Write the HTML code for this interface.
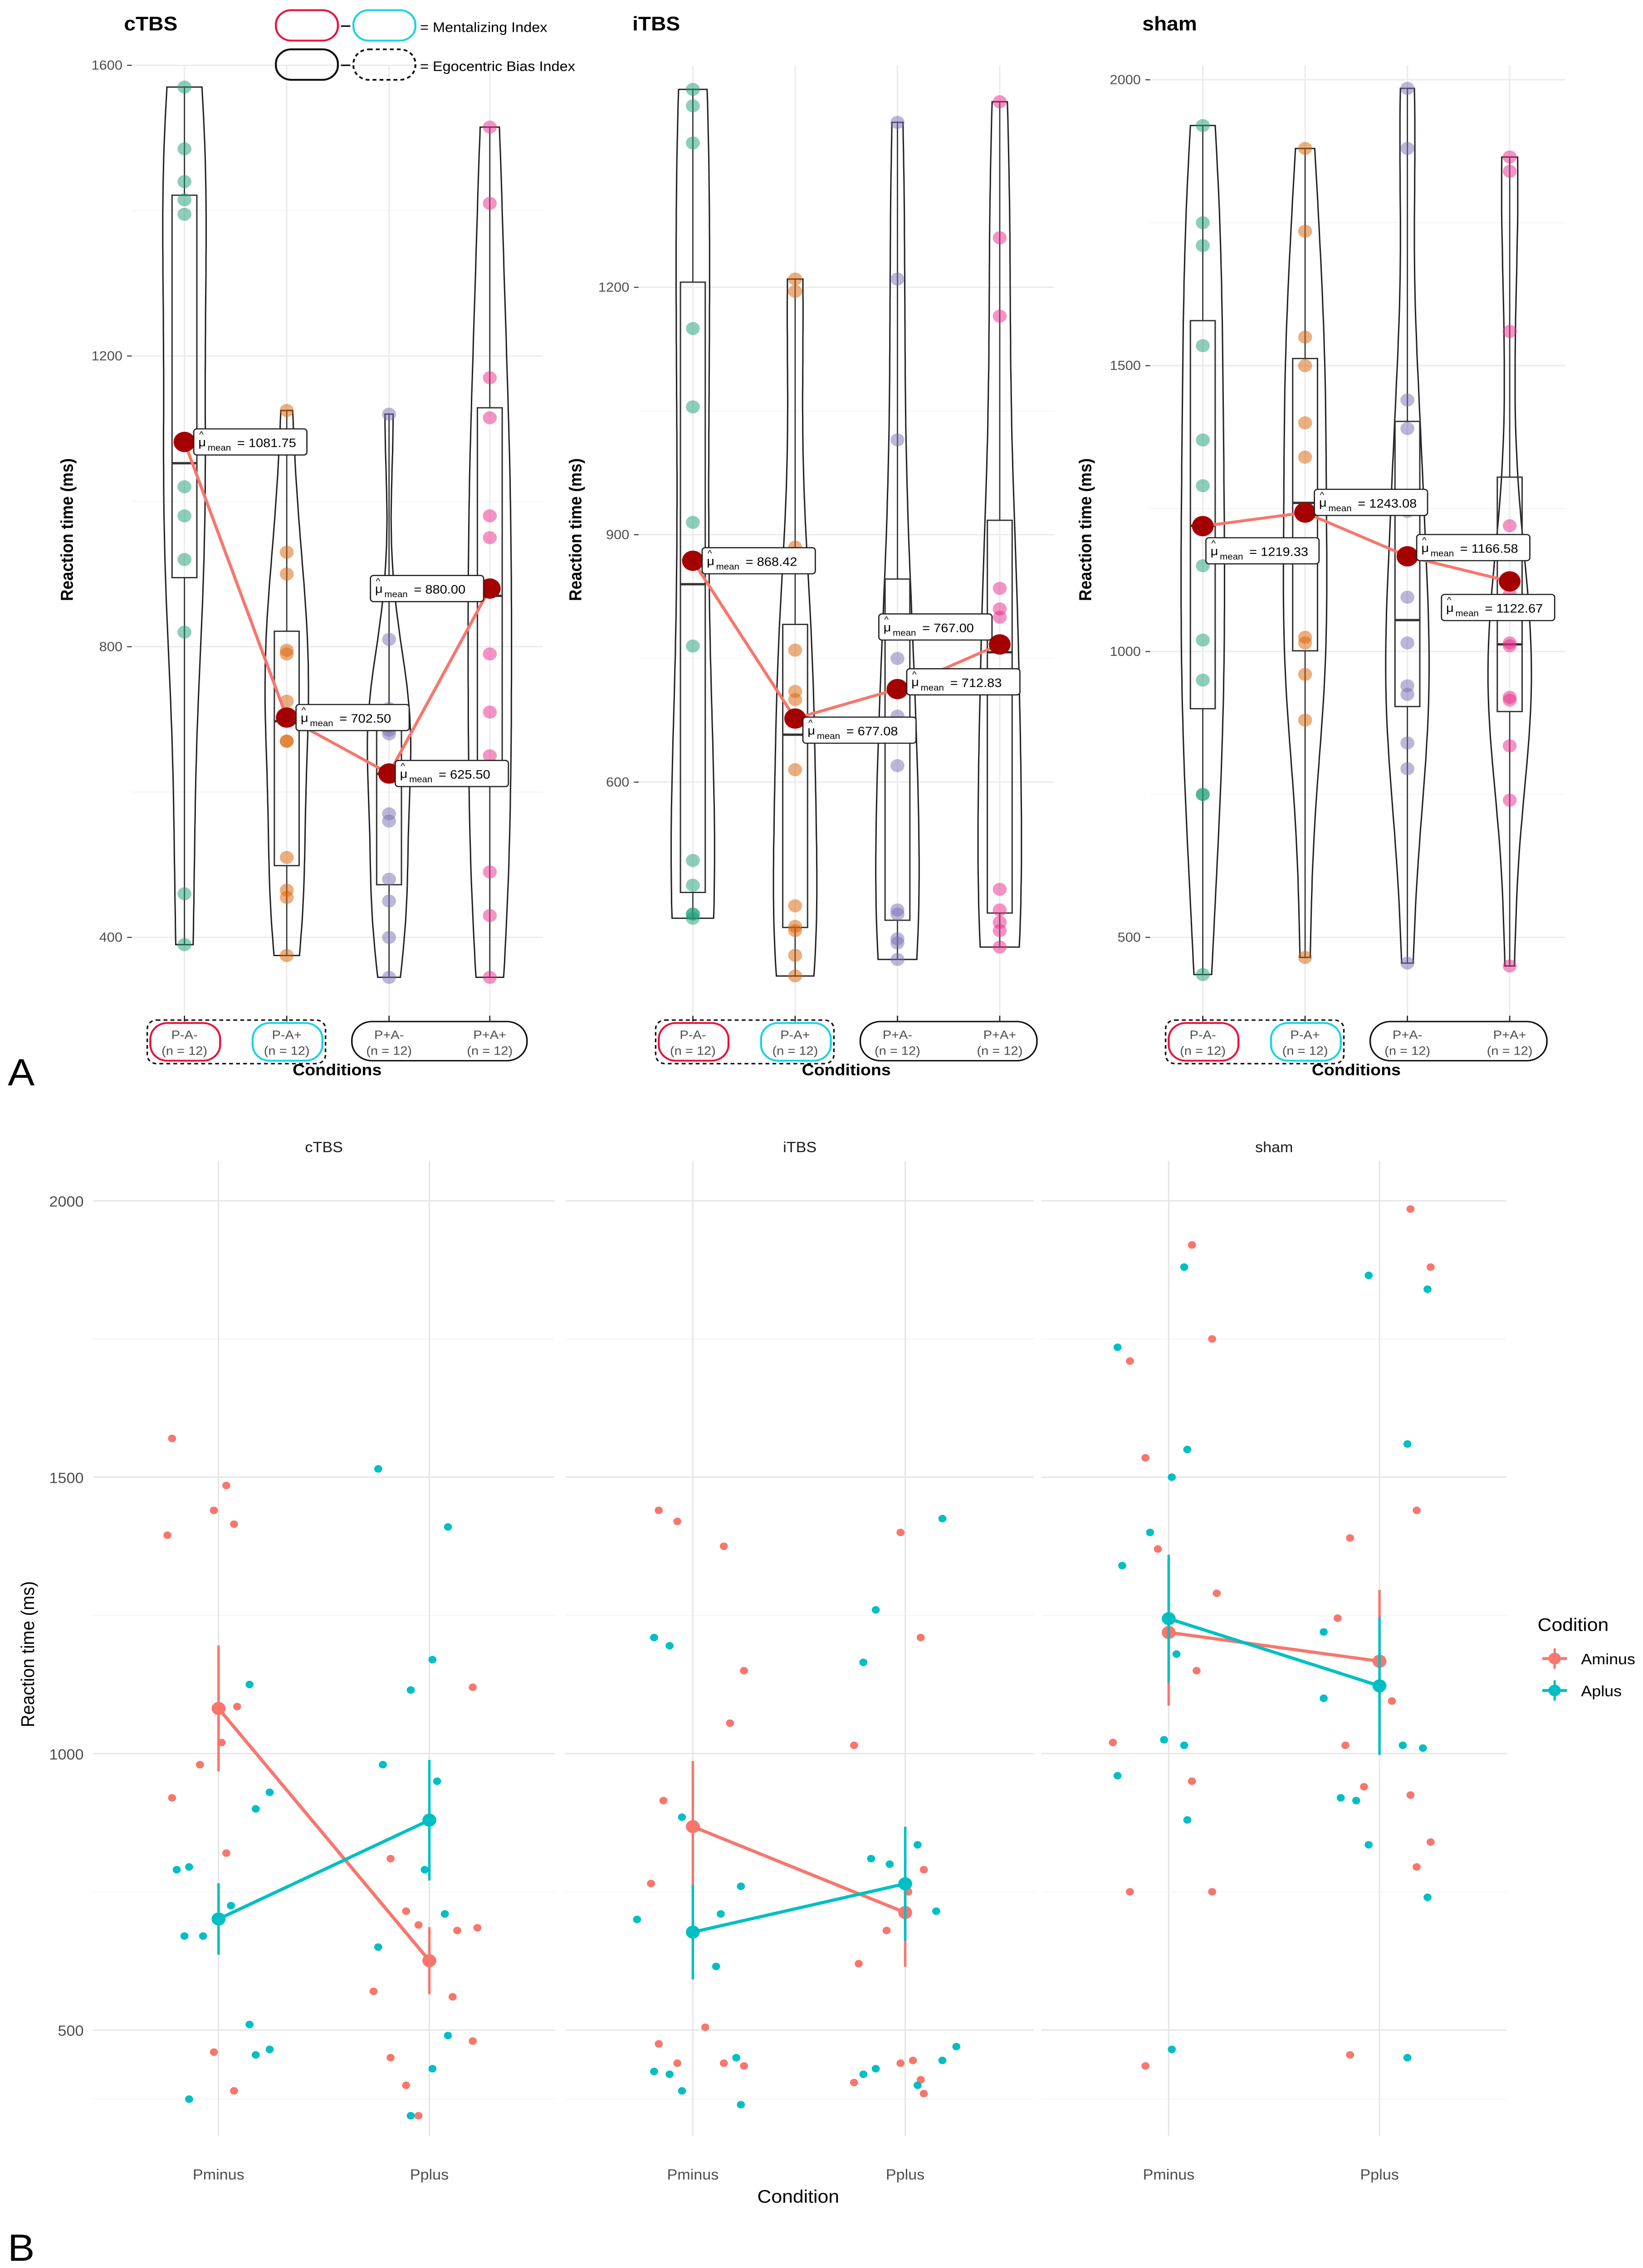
<!DOCTYPE html>
<html><head><meta charset="utf-8"><style>
html,body{margin:0;padding:0;background:#fff;overflow:hidden;width:100vw;height:100vh}
svg{display:block;position:absolute;left:0;top:0;width:100vw;height:100vh}
text{font-family:"Liberation Sans",sans-serif}
</style></head><body>
<svg id="fig" viewBox="0 0 1060 1563" preserveAspectRatio="none" xmlns="http://www.w3.org/2000/svg">
<rect width="1060" height="1563" fill="#fff"/>
<g id="gA"></g>
<g id="gB"></g>
<text x="5" y="748" font-size="26" font-family="Liberation Serif">A</text>
<text x="5" y="1558" font-size="26" font-family="Liberation Serif">B</text>
<g>
<rect x="178" y="7" width="40" height="21" rx="10" fill="none" stroke="#e8143c" stroke-width="1.3"/>
<line x1="220" y1="18" x2="226" y2="18" stroke="#000"/>
<rect x="228" y="7" width="40" height="21" rx="10" fill="none" stroke="#17d4e6" stroke-width="1.3"/>
<text x="271" y="22" font-size="9.5">= Mentalizing Index</text>
<rect x="178" y="34" width="40" height="21" rx="10" fill="none" stroke="#111" stroke-width="1.3"/>
<line x1="220" y1="45" x2="226" y2="45" stroke="#000"/>
<rect x="228" y="34" width="40" height="21" rx="10" fill="none" stroke="#111" stroke-width="1.2" stroke-dasharray="2.5,2"/>
<text x="271" y="49" font-size="9.5">= Egocentric Bias Index</text>
</g>
</svg>
<script>
// ---------- data (same observations used in both panels) ----------
const stimulations = ["cTBS","iTBS","sham"];
const conditionsA = ["P-A-","P-A+","P+A-","P+A+"];
const cTBS_PmAm = [1570,1485,1440,1415,1395,1085,1020,980,920,820,460,390];
const cTBS_PmAp = [1125,930,900,795,790,725,670,670,510,465,455,375];
const cTBS_PpAm = [1120,810,715,690,685,680,570,560,480,450,400,345];
const cTBS_PpAp = [1515,1410,1170,1115,980,950,790,710,650,490,430,345];
const iTBS_PmAm = [1440,1420,1375,1150,1055,915,765,505,475,440,440,435];
const iTBS_PmAp = [1210,1195,885,760,710,700,615,450,425,420,390,365];
const iTBS_PpAm = [1400,1210,1015,790,750,680,620,445,440,410,405,385];
const iTBS_PpAp = [1425,1260,1165,835,810,800,715,470,445,430,420,400];
const sham_PmAm = [1920,1750,1710,1535,1370,1290,1150,1020,950,750,750,435];
const sham_PmAp = [1880,1735,1550,1500,1400,1340,1180,1025,1015,960,880,465];
const sham_PpAm = [1985,1880,1440,1390,1245,1095,1015,940,925,840,795,455];
const sham_PpAp = [1865,1840,1560,1220,1015,1010,920,915,835,740,450,1100];
const meansCTBS = [1081.75,702.50,625.50,880.00];
const meansITBS = [868.42,677.08,712.83,767.00];
const meansSham = [1219.33,1243.08,1166.58,1122.67];
const ticksCTBS = [400,800,1200,1600];
const ticksITBS = [600,900,1200];
const ticksSham = [500,1000,1500,2000];
const ticksB = [500,1000,1500,2000];
const xCatsB = ["Pminus","Pplus"];

const NS="http://www.w3.org/2000/svg";
function el(tag,attrs,parent,txt){const e=document.createElementNS(NS,tag);for(const k in attrs)e.setAttribute(k,attrs[k]);if(txt!==undefined)e.textContent=txt;parent.appendChild(e);return e;}
const gA=document.getElementById('gA'), gB=document.getElementById('gB');
function mean(a){return a.reduce((s,v)=>s+v,0)/a.length;}
function q(a,p){const s=[...a].sort((x,y)=>x-y);const i=(s.length-1)*p;const l=Math.floor(i);return s[l]+(s[Math.min(l+1,s.length-1)]-s[l])*(i-l);}

// ---------- Panel A ----------
const panelsA=[
 {name:"cTBS",groups:[cTBS_PmAm,cTBS_PmAp,cTBS_PpAm,cTBS_PpAp],means:meansCTBS,ticks:ticksCTBS,v0:400,y0:646,v1:1600,y1:45,xs:[119,185,251,316],gx0:85,gx1:350,tx:80,lab:[[6,0],[6,0],[4,0],[-77,0]]},
 {name:"iTBS",groups:[iTBS_PmAm,iTBS_PmAp,iTBS_PpAm,iTBS_PpAp],means:meansITBS,ticks:ticksITBS,v0:600,y0:539,v1:1200,y1:198,xs:[447,513,579,645],gx0:412,gx1:680,tx:408,lab:[[6,0],[5,8],[6,-5],[-78,-12]]},
 {name:"sham",groups:[sham_PmAm,sham_PmAp,sham_PpAm,sham_PpAp],means:meansSham,ticks:ticksSham,v0:500,y0:646,v1:2000,y1:55,xs:[776,842,908,974],gx0:742,gx1:1010,tx:737,lab:[[2,17],[6,-7],[6,-6],[-44,18]]}
];
const colA=["#1b9e77","#d95f02","#7570b3","#e7298a"];
panelsA.forEach((P,pi)=>{
 const g=el('g',{},gA);
 
 
 const y=v=>P.y0+(v-P.v0)*(P.y1-P.y0)/(P.v1-P.v0);
 for(let i=0;i<P.ticks.length;i++){
  const t=P.ticks[i];
  el('line',{x1:P.gx0,x2:P.gx1,y1:y(t),y2:y(t),stroke:"#ebebeb","stroke-width":0.9},g);
  if(i<P.ticks.length-1){const m=(t+P.ticks[i+1])/2;el('line',{x1:P.gx0,x2:P.gx1,y1:y(m),y2:y(m),stroke:"#f4f4f4","stroke-width":0.6},g);}
  const tl=el('text',{x:P.gx0-6,y:y(t)+3,"font-size":9,"text-anchor":"end",fill:"#4d4d4d"},g,String(t));
  
  el('line',{x1:P.gx0-3,x2:P.gx0,y1:y(t),y2:y(t),stroke:"#333","stroke-width":0.7},g);
 }
 P.xs.forEach(x=>el('line',{x1:x,x2:x,y1:45,y2:700,stroke:"#ebebeb","stroke-width":0.9},g));
 const tt=el('text',{x:P.tx,y:21,"font-size":13.5,"font-weight":"bold"},g,P.name);
 
 const yl=el('text',{x:0,y:0,"font-size":11,"font-weight":"bold","text-anchor":"middle",transform:`translate(${P.tx-33},365) rotate(-90)`},g,"Reaction time (ms)");
 
 P.groups.forEach((d,gi)=>{
  const x=P.xs[gi];const mn=Math.min(...d),mx=Math.max(...d);
  const sd=Math.sqrt(d.reduce((s,v)=>s+(v-mean(d))**2,0)/(d.length-1));
  const bw=0.9*Math.min(sd,(q(d,.75)-q(d,.25))/1.34)*Math.pow(d.length,-0.2);
  const N=60,dens=[];
  for(let i=0;i<=N;i++){const v=mn+(mx-mn)*i/N;let s=0;d.forEach(o=>s+=Math.exp(-0.5*((v-o)/bw)**2));dens.push([v,s]);}
  const dm=Math.max(...dens.map(p=>p[1]));
  const pts=dens.map(p=>[x+p[1]/dm*14,y(p[0])]).concat(dens.slice().reverse().map(p=>[x-p[1]/dm*14,y(p[0])]));
  const vp=el('path',{d:"M"+pts.map(p=>p[0].toFixed(1)+","+p[1].toFixed(1)).join("L")+"Z",fill:"none",stroke:"#222","stroke-width":0.9},g);
  
  const q1=q(d,.25),q3=q(d,.75),md=q(d,.5);
  const bx=el('rect',{x:x-8,y:y(q3),width:16,height:y(q1)-y(q3),fill:"none",stroke:"#333","stroke-width":0.9},g);
  
  el('line',{x1:x-8,x2:x+8,y1:y(md),y2:y(md),stroke:"#333","stroke-width":1.6},g);
  el('line',{x1:x,x2:x,y1:y(mx),y2:y(q3),stroke:"#333","stroke-width":0.8},g);
  el('line',{x1:x,x2:x,y1:y(q1),y2:y(mn),stroke:"#333","stroke-width":0.8},g);
  d.forEach(v=>{const c=el('circle',{cx:x,cy:y(v),r:4.5,fill:colA[gi],"fill-opacity":0.5},g);
   });
 });
 const ml=el('polyline',{points:P.means.map((m,i)=>P.xs[i]+","+y(m)).join(" "),fill:"none",stroke:"#f8766d","stroke-width":2},g);
 
 P.means.forEach((m,i)=>{
  const x=P.xs[i],yy=y(m);
  const c=el('circle',{cx:x,cy:yy,r:7,fill:"#a50000"},g);
  
  const bxX=x+P.lab[i][0],cy=yy+P.lab[i][1];
  const lg=el('g',{},g);
  el('rect',{x:bxX,y:cy-9,width:73,height:18,rx:2,fill:"#fff",stroke:"#222","stroke-width":0.8},lg);
  el('text',{x:bxX+3,y:cy+3,"font-size":8.5},lg,"μ");
  el('text',{x:bxX+3.5,y:cy-3,"font-size":6},lg,"^");
  el('text',{x:bxX+9,y:cy+6,"font-size":6},lg,"mean");
  el('text',{x:bxX+28,y:cy+3.5,"font-size":8.5},lg,"= "+m.toFixed(2));
 });
 const xs=P.xs;
 const lg=el('g',{},g);
 el('rect',{x:xs[0]-24,y:703,width:xs[1]-xs[0]+49,height:30,rx:6,fill:"none",stroke:"#111","stroke-width":1,"stroke-dasharray":"2.5,2"},lg);
 el('rect',{x:xs[0]-22,y:705,width:45,height:26,rx:11,fill:"none",stroke:"#e8143c","stroke-width":1.3},lg);
 el('rect',{x:xs[1]-22,y:705,width:45,height:26,rx:11,fill:"none",stroke:"#17d4e6","stroke-width":1.3},lg);
 el('rect',{x:xs[2]-24,y:704,width:xs[3]-xs[2]+48,height:27,rx:13,fill:"none",stroke:"#111","stroke-width":1},lg);
 xs.forEach((x,i)=>{
  el('line',{x1:x,x2:x,y1:700,y2:704,stroke:"#222","stroke-width":0.8},lg);
  const t=el('text',{x:x,y:716,"font-size":8.5,"text-anchor":"middle",fill:"#4d4d4d"},lg,conditionsA[i]);
  
  el('text',{x:x,y:727,"font-size":8.5,"text-anchor":"middle",fill:"#4d4d4d"},lg,"(n = 12)");
 });
 const xt=el('text',{x:(xs[0]+xs[3])/2,y:741,"font-size":11,"font-weight":"bold","text-anchor":"middle"},g,"Conditions");
 
});

// ---------- Panel B ----------
const groupsB=[[cTBS_PmAm,cTBS_PpAm,cTBS_PmAp,cTBS_PpAp],[iTBS_PmAm,iTBS_PpAm,iTBS_PmAp,iTBS_PpAp],[sham_PmAm,sham_PpAm,sham_PmAp,sham_PpAp]];
const facetX=[[60,358],[365,667],[672,972]];
const catX=[[141,277],[447,584],[754,890]];
const jit=[-30,-22,15,5,-10,28,-3,20,-25,10,33,-15,-33,24,-7,12,-19,31,2,-27,18,-12,8,-36];
const yB=v=>1399-(v-500)*190.5/500;
const colB=["#f8766d","#00bfc4"];
stimulations.forEach((s,fi)=>{
 const g=el('g',{},gB);
 
 
 const [x0,x1]=facetX[fi];
 ticksB.forEach((t,i)=>{
  el('line',{x1:x0,x2:x1,y1:yB(t),y2:yB(t),stroke:"#e5e5e5","stroke-width":0.9},g);
  if(i<ticksB.length-1){const m=(t+ticksB[i+1])/2;el('line',{x1:x0,x2:x1,y1:yB(m),y2:yB(m),stroke:"#f3f3f3","stroke-width":0.6},g);}
  if(fi===0){const tl=el('text',{x:x0-6,y:yB(t)+4,"font-size":10,"text-anchor":"end",fill:"#4d4d4d"},g,String(t));
   }
 });
 el('line',{x1:x0,x2:x1,y1:yB(375),y2:yB(375),stroke:"#f3f3f3","stroke-width":0.6},g);
 catX[fi].forEach((x,ci)=>{
  el('line',{x1:x,x2:x,y1:800,y2:1472,stroke:"#e5e5e5","stroke-width":0.9},g);
  const t=el('text',{x:x,y:1502,"font-size":10,"text-anchor":"middle",fill:"#4d4d4d"},g,xCatsB[ci]);
  
 });
 const ft=el('text',{x:(x0+x1)/2,y:794,"font-size":10,"text-anchor":"middle",fill:"#1a1a1a"},g,s);
 
 const G=groupsB[fi];
 [0,1].forEach(col=>{
  const ms=[];
  [0,1].forEach(ci=>{
   const d=G[col*2+ci],x=catX[fi][ci];
   d.forEach((v,k)=>{const c=el('circle',{cx:x+jit[(k*3+col*7+ci*5+fi)%jit.length],cy:yB(v),r:2.6,fill:colB[col]},g);
    });
   const m=mean(d),sd=Math.sqrt(d.reduce((a,v)=>a+(v-m)**2,0)/(d.length-1)),se=sd/Math.sqrt(d.length);
   ms.push([x,m,se]);
  });
  const ln=el('polyline',{points:ms.map(p=>p[0]+","+yB(p[1])).join(" "),fill:"none",stroke:colB[col],"stroke-width":2.2},g);
  
  ms.forEach(p=>{
   const e=el('line',{x1:p[0],x2:p[0],y1:yB(p[1]+p[2]),y2:yB(p[1]-p[2]),stroke:colB[col],"stroke-width":1.6},g);
   
   const c=el('circle',{cx:p[0],cy:yB(p[1]),r:4.5,fill:colB[col]},g);
   
  });
 });
});
{
 const yl=el('text',{x:0,y:0,"font-size":12,"text-anchor":"middle",transform:"translate(22,1140) rotate(-90)"},gB,"Reaction time (ms)");
 
 const xt=el('text',{x:515,y:1518,"font-size":12.5,"text-anchor":"middle"},gB,"Condition");
 
 const lg=el('g',{},gB);
 el('text',{x:992,y:1124,"font-size":12.5},lg,"Codition");
 ["Aminus","Aplus"].forEach((n,i)=>{
  const yy=1143+i*22;
  const it=el('g',{},lg);
  el('line',{x1:995,x2:1011,y1:yy,y2:yy,stroke:colB[i],"stroke-width":2},it);
  el('line',{x1:1003,x2:1003,y1:yy-7,y2:yy+7,stroke:colB[i],"stroke-width":1.5},it);
  el('circle',{cx:1003,cy:yy,r:4,fill:colB[i]},it);
  el('text',{x:1020,y:yy+4,"font-size":10.5},it,n);
 });
}
</script>
</body></html>
